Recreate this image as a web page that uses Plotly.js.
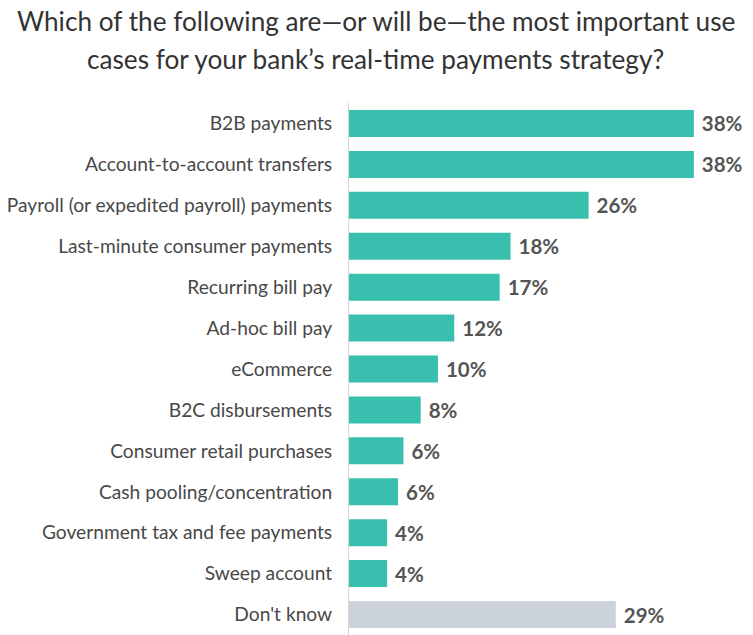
<!DOCTYPE html>
<html>
<head>
<meta charset="utf-8">
<script src="https://cdn.plot.ly/plotly-3.0.1.min.js"></script>
<style>html,body{margin:0;padding:0;background:#fff;}#chart{width:753px;height:635px;}</style>
</head>
<body>
<div id="chart"></div>
<script>
const categories = [
  "B2B payments",
  "Account-to-account transfers",
  "Payroll (or expedited payroll) payments",
  "Last-minute consumer payments",
  "Recurring bill pay",
  "Ad-hoc bill pay",
  "eCommerce",
  "B2C disbursements",
  "Consumer retail purchases",
  "Cash pooling/concentration",
  "Government tax and fee payments",
  "Sweep account",
  "Don't know"
];
const values = [38.0, 38.0, 26.4, 17.8, 16.6, 11.6, 9.8, 7.9, 6.0, 5.4, 4.2, 4.2, 29.4];
const valueLabels = ["38%", "38%", "26%", "18%", "17%", "12%", "10%", "8%", "6%", "6%", "4%", "4%", "29%"];
const barColors = categories.map(c => c === "Don't know" ? "#cbd2dc" : "#38bfad");

const trace = {
  type: 'bar',
  orientation: 'h',
  y: categories,
  x: values,
  text: valueLabels.map(t => ' ' + t),
  textposition: 'outside',
  cliponaxis: false,
  textfont: {family: 'Lato', size: 20.5, color: '#555555', weight: 'bold'},
  marker: {color: barColors, line: {width: 0}},
  hoverinfo: 'none'
};

const layout = {
  width: 753,
  height: 635,
  margin: {l: 349, r: 41, t: 103, b: 0, pad: 0},
  paper_bgcolor: '#ffffff',
  plot_bgcolor: '#ffffff',
  showlegend: false,
  bargap: 0.34,
  font: {family: 'Lato', color: '#3a3a3a'},
  xaxis: {
    range: [0, 40],
    visible: false,
    fixedrange: true
  },
  yaxis: {
    autorange: 'reversed',
    showline: true,
    linecolor: '#d6d6d6',
    linewidth: 1,
    showgrid: false,
    zeroline: false,
    ticks: '',
    ticklabelstandoff: 12,
    tickfont: {family: 'Lato', size: 19.2, color: '#484848'},
    fixedrange: true
  },
  annotations: [
    {text: 'Which of the following are\u2014or will be\u2014the most important use', xref: 'paper', yref: 'paper',
     x: 0.5, y: 0, xanchor: 'center', yanchor: 'middle', showarrow: false,
     font: {family: 'Lato', size: 26.2, color: '#333333'}},
    {text: 'cases for your bank\u2019s real-time payments strategy?', xref: 'paper', yref: 'paper',
     x: 0.5, y: 0, xanchor: 'center', yanchor: 'middle', showarrow: false,
     font: {family: 'Lato', size: 26.2, color: '#333333'}}
  ]
};

// position the title lines in pixel terms relative to the page
const plotH = 635 - 103 - 0;
function paperY(px) { return (635 - 0 - px) / plotH; }
function paperX(px) { return (px - 349) / (753 - 349 - 41); }
layout.annotations[0].x = paperX(375.5); layout.annotations[0].y = paperY(21);
layout.annotations[1].x = paperX(375.5); layout.annotations[1].y = paperY(59);

Plotly.newPlot('chart', [trace], layout, {displayModeBar: false, staticPlot: true});
</script>
</body>
</html>
